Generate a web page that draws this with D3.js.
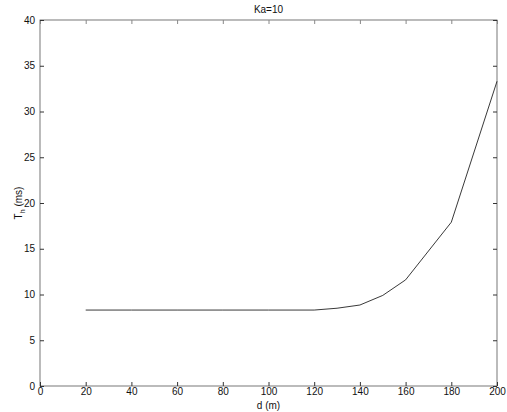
<!DOCTYPE html>
<html><head><meta charset="utf-8">
<script src="https://cdn.jsdelivr.net/npm/d3@7"></script>
<style>body{margin:0;background:#fff}svg{display:block}text{font-family:"Liberation Sans",Arial,sans-serif;fill:#111}</style>
</head><body>
<svg id="c" width="507" height="412"></svg>
<script>
const dValues = [20, 40, 60, 80, 100, 120, 130, 140, 150, 160, 180, 200];
const thValues = [8.3, 8.3, 8.3, 8.3, 8.3, 8.3, 8.5, 8.85, 9.9, 11.6, 17.9, 33.3];
const xTicks = [0, 20, 40, 60, 80, 100, 120, 140, 160, 180, 200];
const yTicks = [0, 5, 10, 15, 20, 25, 30, 35, 40];
const titleText = "Ka=10";

const svg = d3.select("#c");
const L = 40, R = 497, T = 20, B = 386;
const x = d3.scaleLinear().domain([0, 200]).range([L, R]);
const y = d3.scaleLinear().domain([0, 40]).range([B, T]);

// frame
svg.append("rect").attr("x", L).attr("y", T).attr("width", R - L).attr("height", B - T)
  .attr("fill", "none").attr("stroke", "#555").attr("stroke-width", 0.8);

const tl = 4;
svg.append("g").attr("transform", `translate(0,${B})`)
  .call(d3.axisBottom(x).tickValues(xTicks).tickSize(-tl).tickPadding(2).tickFormat(d3.format("d")))
  .call(g => { g.select(".domain").remove(); g.selectAll("line").attr("stroke", "#333"); g.selectAll("text").attr("font-size", 10); });
svg.append("g").attr("transform", `translate(0,${T})`)
  .call(d3.axisTop(x).tickValues(xTicks).tickSize(-tl).tickFormat(""))
  .call(g => { g.select(".domain").remove(); g.selectAll("line").attr("stroke", "#888"); });
svg.append("g").attr("transform", `translate(${L},0)`)
  .call(d3.axisLeft(y).tickValues(yTicks).tickSize(-tl).tickPadding(5).tickFormat(d3.format("d")))
  .call(g => { g.select(".domain").remove(); g.selectAll("line").attr("stroke", "#333"); g.selectAll("text").attr("font-size", 10); });
svg.append("g").attr("transform", `translate(${R},0)`)
  .call(d3.axisRight(y).tickValues(yTicks).tickSize(-tl).tickFormat(""))
  .call(g => { g.select(".domain").remove(); g.selectAll("line").attr("stroke", "#333"); });

// line
const pts = dValues.map((d, i) => [d, thValues[i]]);
svg.append("path").datum(pts)
  .attr("fill", "none").attr("stroke", "#222").attr("stroke-width", 0.9)
  .attr("d", d3.line().x(d => x(d[0])).y(d => y(d[1])));

// title & labels
svg.append("text").attr("x", (L + R) / 2).attr("y", 13).attr("text-anchor", "middle")
  .attr("font-size", 10).text(titleText);
svg.append("text").attr("x", (L + R) / 2).attr("y", 409).attr("text-anchor", "middle")
  .attr("font-size", 10).text("d (m)");
const yl = svg.append("text").attr("transform", `translate(22,${(T + B) / 2}) rotate(-90)`)
  .attr("text-anchor", "middle").attr("font-size", 10);
yl.append("tspan").text("T");
yl.append("tspan").attr("font-size", 7).attr("dy", 3).text("h");
yl.append("tspan").attr("dy", -3).text(" (ms)");
</script>
</body></html>
